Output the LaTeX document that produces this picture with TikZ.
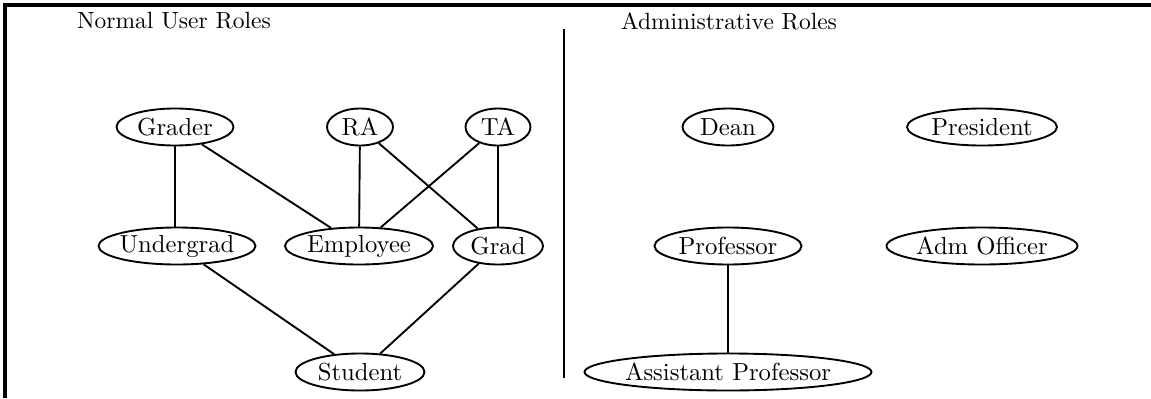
\documentclass[tikz,border=0pt]{standalone}
\usetikzlibrary{shapes.geometric}
\newcommand\pxu{0.4257pt}
\begin{document}
\begin{tikzpicture}[x=0.4257pt,y=-0.4257pt,
  role/.style={draw,ellipse,line width=0.8pt,inner ysep=0pt,inner xsep=-1pt,minimum height=37*\pxu,font=\fontsize{10.5}{12}\selectfont},
  link/.style={line width=0.8pt},
  frame/.style={line width=1.3pt},
  title/.style={font=\fontsize{10}{12}\selectfont}]
\useasboundingbox (0,0) rectangle (1151,398);
\coordinate (tl) at (5,5);
\coordinate (tr) at (1151,5);
\coordinate (bl) at (5,398);
\draw[frame] (bl) -- (tl) -- (tr);
\node[title] (nur) at (174,21) {Normal User Roles};
\node[title] (adm) at (729,21) {Administrative Roles};
\coordinate (d1) at (564,29);
\coordinate (d2) at (564,378);
\draw[link] (d1) -- (d2);
\node[role,minimum width=117*\pxu] (grader) at (175,127) {Grader};
\node[role,minimum width=66*\pxu] (ra) at (360,127) {RA};
\node[role,minimum width=65*\pxu] (ta) at (498,127) {TA};
\node[role,minimum width=157*\pxu] (ug) at (177,246) {Undergrad};
\node[role,minimum width=148*\pxu] (emp) at (359,246) {Employee};
\node[role,minimum width=90*\pxu] (grad) at (498,246) {Grad};
\node[role,minimum width=129*\pxu] (stu) at (360,372) {Student};
\node[role,minimum width=91*\pxu] (dean) at (728,127) {Dean};
\node[role,minimum width=150*\pxu] (pres) at (982,127) {President};
\node[role,minimum width=147*\pxu] (prof) at (728,246) {Professor};
\node[role,minimum width=191*\pxu] (admo) at (982,246) {Adm Officer};
\node[role,minimum width=287*\pxu] (ap) at (728,372) {Assistant Professor};
\draw[link] (grader.south) -- (grader.south |- ug.north);
\draw[link] (grader) -- (emp);
\draw[link] (ra) -- (emp);
\draw[link] (ra) -- (grad);
\draw[link] (ta) -- (emp);
\draw[link] (ta) -- (grad);
\draw[link] (ug) -- (stu);
\draw[link] (grad) -- (stu);
\draw[link] (prof) -- (ap);
\end{tikzpicture}
\end{document}
